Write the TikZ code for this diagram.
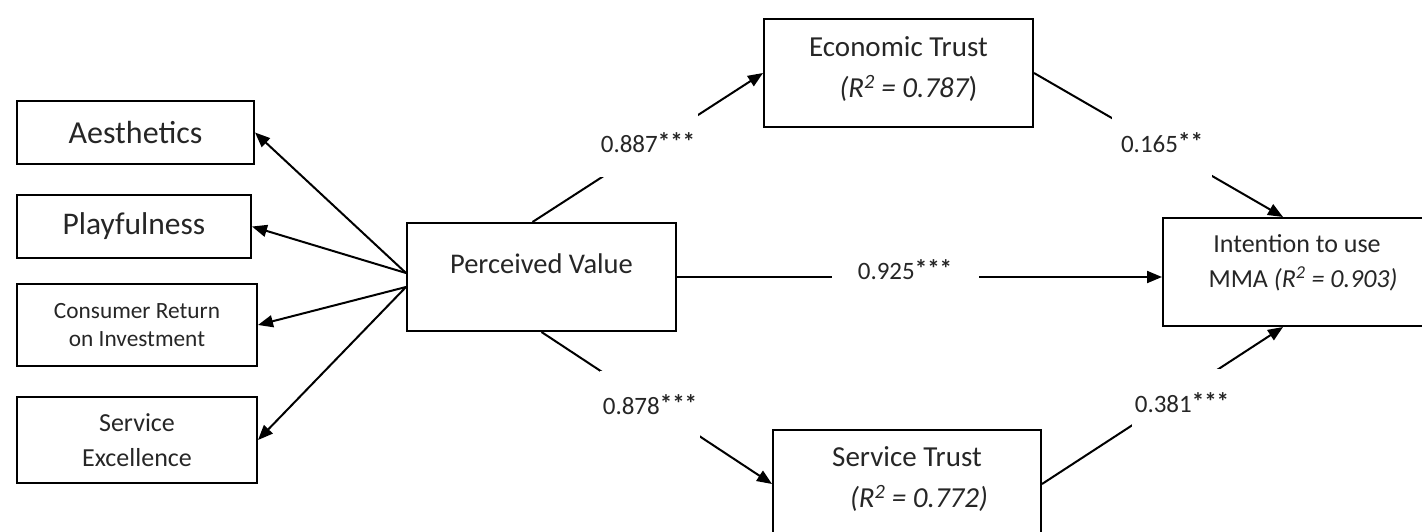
\documentclass[tikz,border=0pt]{standalone}
\usepackage{fontspec}
\setmainfont{Carlito}
\usetikzlibrary{arrows.meta}

\begin{document}
\begin{tikzpicture}[x=1pt,y=-1pt]
\tikzstyle{every node}+=[inner sep=2pt, text=black!85]
\tikzstyle{box}=[draw=black, line width=2pt, align=center]
\tikzstyle{arr}=[draw=black, line width=2pt, -{Triangle[length=15pt,width=12pt]}]
\tikzstyle{coef}=[fill=white, minimum width=100pt, minimum height=68pt, font=\fontsize{25}{30}\selectfont]
\newcommand{\stars}[1]{\raisebox{2pt}{\bfseries #1}}
\useasboundingbox (0,0) rectangle (1422,531);
\node [box, minimum width=237pt, minimum height=63pt, font=\fontsize{32}{38}\selectfont] (aes) at (135.5,132.5) {Aesthetics};
\node [box, minimum width=234pt, minimum height=63pt, font=\fontsize{31.5}{38}\selectfont] (play) at (134,226.5) {Playfulness};
\node [box, minimum width=240pt, minimum height=82pt, font=\fontsize{23.3}{28}\selectfont] (cri) at (137,325) {Consumer Return\\on Investment};
\node [box, minimum width=240pt, minimum height=86pt, font=\fontsize{26}{35}\selectfont] (sex) at (137,440) {Service\\Excellence};
\node [box, minimum width=269pt, minimum height=108pt, text depth=26pt, font=\fontsize{28.5}{34}\selectfont] (pv) at (541.5,277) {Perceived Value};
\node [box, minimum width=269pt, minimum height=108pt, text depth=12pt, font=\fontsize{29}{41}\selectfont] (et) at (898.5,73) {Economic Trust\\\hspace*{20pt}{\itshape (R\textsuperscript{2} = 0.787})};
\node [box, minimum width=268pt, minimum height=108pt, text depth=14pt, font=\fontsize{29}{41}\selectfont] (st) at (907,484) {Service Trust\\\hspace*{24pt}{\itshape (R\textsuperscript{2} = 0.772)}};
\node [box, minimum width=268pt, minimum height=108pt, text depth=21pt, font=\fontsize{26}{35}\selectfont] (iu) at (1297,272) {Intention to use\\\hspace*{12pt}MMA {\itshape (R\textsuperscript{2} = 0.903)}};
\draw [arr] ([yshift=4pt]pv.west) -- (aes.east);
\draw [arr] ([yshift=4pt]pv.west) -- (play.east);
\draw [arr] ([yshift=-10pt]pv.west) -- (cri.east);
\draw [arr] ([yshift=-10pt]pv.west) -- (sex.east);
\draw [arr] ([xshift=-9pt]pv.north) -- (et.west);
\draw [arr] (pv.south) -- (st.west);
\draw [arr] (pv.east) -- (pv.east -| iu.west);
\draw [arr] (et.east) -- ([xshift=-14pt]iu.north);
\draw [arr] (st.east) -- ([xshift=-14pt]iu.south);
\node [coef] (c887) at (648,143) {0.887\stars{***}};
\node [coef] (c878) at (650,405) {0.878\stars{***}};
\node [coef, minimum width=147pt, minimum height=28pt] (c925) at (905,270) {0.925\stars{***}};
\node [coef] (c165) at (1162,143) {0.165\stars{**}};
\node [coef] (c381) at (1182,403) {0.381\stars{***}};
\end{tikzpicture}
\end{document}
